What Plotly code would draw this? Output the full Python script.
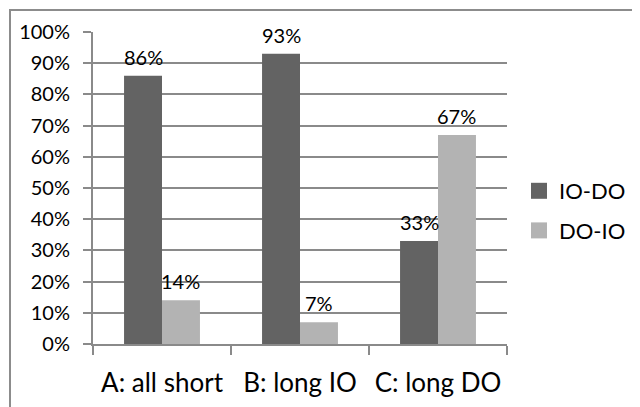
import plotly.graph_objects as go

categories = ["A: all short", "B: long IO", "C: long DO"]
io_do = [86, 93, 33]
do_io = [14, 7, 67]
io_do_labels = ["86%", "93%", "33%"]
do_io_labels = ["14%", "7%", "67%"]
series_names = ["IO-DO", "DO-IO"]
y_ticks = [0, 10, 20, 30, 40, 50, 60, 70, 80, 90, 100]
y_tick_labels = ["0%", "10%", "20%", "30%", "40%", "50%", "60%", "70%", "80%", "90%", "100%"]

# page body has an 8px margin, so the figure is 8px smaller than the window
W, H = 632, 399
ml, mr, mt, mb = 85, 133, 24, 63
pw, ph = W - ml - mr, H - mt - mb

FONT = "Lato"
grid = "#8a8a8a"
dark, light = "#636363", "#b3b3b3"
bargap = 0.45

fig = go.Figure()
fig.add_trace(go.Bar(x=categories, y=io_do, name=series_names[0],
                     marker=dict(color=dark, line=dict(width=0)), showlegend=False))
fig.add_trace(go.Bar(x=categories, y=do_io, name=series_names[1],
                     marker=dict(color=light, line=dict(width=0)), showlegend=False))

# legend entries (square swatches)
for name, col, grp in [(series_names[0], dark, "a"), (series_names[1], light, "b")]:
    fig.add_trace(go.Scatter(x=[None], y=[None], mode="markers", name=name,
                             marker=dict(symbol="square", size=16, color=col),
                             legendgroup=grp, showlegend=True))

# data labels
cat_px = pw / len(categories)
bar_px = cat_px * (1 - bargap) / 2
annotations = []
for vals, labs, sgn in [(io_do, io_do_labels, -1), (do_io, do_io_labels, 1)]:
    for c, v, t in zip(categories, vals, labs):
        annotations.append(dict(x=c, y=v, xref="x", yref="y", text=t, showarrow=False,
                                xshift=sgn * bar_px / 2, yshift=19, yanchor="middle",
                                font=dict(family=FONT, size=20, color="#000")))

fig.update_layout(
    width=W, height=H,
    margin=dict(l=ml, r=mr, t=mt, b=mb, autoexpand=False),
    paper_bgcolor="white", plot_bgcolor="white",
    barmode="group", bargap=bargap, bargroupgap=0,
    font=dict(family=FONT, color="#000"),
    showlegend=True,
    annotations=annotations,
    legend=dict(x=(511 - ml) / pw, y=(H - mb - 162) / ph, xanchor="left", yanchor="top",
                font=dict(family=FONT, size=22, color="#000"),
                traceorder="grouped", tracegroupgap=8, bgcolor="rgba(0,0,0,0)",
                itemwidth=30),
    xaxis=dict(showline=True, linecolor=grid, linewidth=2, tickson="boundaries",
               ticks="outside", ticklen=9, tickcolor=grid, tickwidth=2,
               tickfont=dict(family=FONT, size=26, color="#000"), ticklabelstandoff=15,
               showgrid=False, zeroline=False),
    yaxis=dict(range=[0, 100], tickvals=y_ticks, ticktext=y_tick_labels,
               showline=True, linecolor=grid, linewidth=2,
               ticks="outside", ticklen=8, tickcolor=grid, tickwidth=2,
               tickfont=dict(family=FONT, size=20, color="#000"), ticklabelstandoff=9,
               showgrid=True, gridcolor=grid, gridwidth=2, zeroline=False),
    shapes=[dict(type="rect", xref="paper", yref="paper",
                 x0=(2 - ml) / pw, x1=(W + 20 - ml) / pw,
                 y0=(-20 - mb) / ph, y1=(H - 2 - mb) / ph,
                 line=dict(color="#8c8c8c", width=2), fillcolor="rgba(0,0,0,0)", layer="below")],
)

fig.write_html("out.html")
